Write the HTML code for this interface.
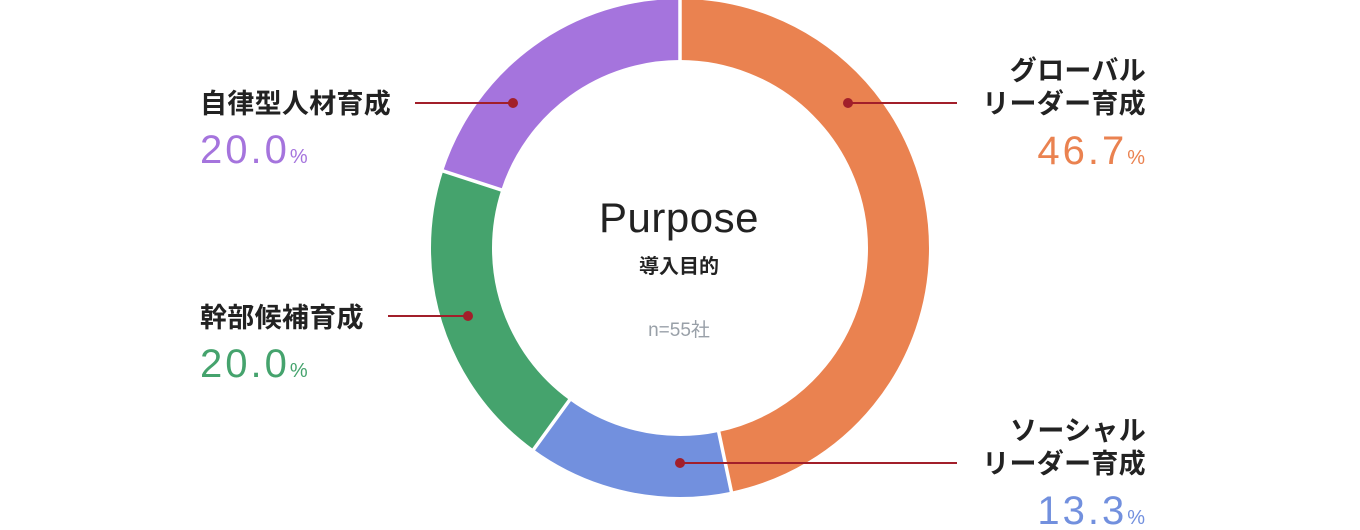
<!DOCTYPE html><html><head><meta charset="utf-8"><style>
body{margin:0;background:#fff;}
svg{display:block;font-family:"Liberation Sans","Noto Sans CJK JP",sans-serif;}
.l{font-size:27px;font-weight:bold;fill:#222;letter-spacing:0.3px;}
.p{font-size:40px;letter-spacing:3px;}
.s{font-size:20px;}
</style></head><body>
<svg width="1360" height="530" viewBox="0 0 1360 530">
<g transform="rotate(-90 680 248)" fill="none" stroke-width="61">
<circle cx="680" cy="248" r="218.5" stroke="#ea8250" stroke-dasharray="641.1 2000" stroke-dashoffset="0"/>
<circle cx="680" cy="248" r="218.5" stroke="#7290de" stroke-dasharray="182.6 2000" stroke-dashoffset="-641.1"/>
<circle cx="680" cy="248" r="218.5" stroke="#45a36d" stroke-dasharray="274.6 2000" stroke-dashoffset="-823.7"/>
<circle cx="680" cy="248" r="218.5" stroke="#a574dd" stroke-dasharray="274.6 2000" stroke-dashoffset="-1098.3"/>
</g>
<g stroke="#fff" stroke-width="3.5">
<line x1="680" y1="63" x2="680" y2="-4"/>
<line x1="718.1" y1="429" x2="732" y2="494.6"/>
<line x1="571.3" y1="397.7" x2="531.9" y2="451.9"/>
<line x1="504.1" y1="190.8" x2="440.3" y2="170.1"/>
</g>
<g stroke="#a21f2a" stroke-width="2" fill="#a21f2a">
<line x1="415" y1="103" x2="513" y2="103"/><circle cx="513" cy="103" r="5" stroke="none"/>
<line x1="848" y1="103" x2="957" y2="103"/><circle cx="848" cy="103" r="5" stroke="none"/>
<line x1="388" y1="316" x2="468" y2="316"/><circle cx="468" cy="316" r="5" stroke="none"/>
<line x1="680" y1="463" x2="957" y2="463"/><circle cx="680" cy="463" r="5" stroke="none"/>
</g>
<text x="679" y="232" text-anchor="middle" font-size="42" fill="#222" letter-spacing="0.5">Purpose</text>
<text x="679" y="273" text-anchor="middle" font-size="20" font-weight="bold" fill="#222">導入目的</text>
<text x="679" y="336" text-anchor="middle" font-size="19" fill="#99a0a8">n=55社</text>
<text x="200" y="113" class="l">自律型人材育成</text>
<text x="200" y="163" fill="#a574dd"><tspan class="p">20.0</tspan><tspan class="s">%</tspan></text>
<text x="200" y="327" class="l">幹部候補育成</text>
<text x="200" y="377" fill="#45a36d"><tspan class="p">20.0</tspan><tspan class="s">%</tspan></text>
<text x="1146" y="80" class="l" text-anchor="end">グローバル</text>
<text x="1146" y="113" class="l" text-anchor="end">リーダー育成</text>
<text x="1145" y="164" fill="#ea8250" text-anchor="end"><tspan class="p">46.7</tspan><tspan class="s">%</tspan></text>
<text x="1146" y="440" class="l" text-anchor="end">ソーシャル</text>
<text x="1146" y="473" class="l" text-anchor="end">リーダー育成</text>
<text x="1145" y="524" fill="#7290de" text-anchor="end"><tspan class="p">13.3</tspan><tspan class="s">%</tspan></text>
</svg>
</body></html>
